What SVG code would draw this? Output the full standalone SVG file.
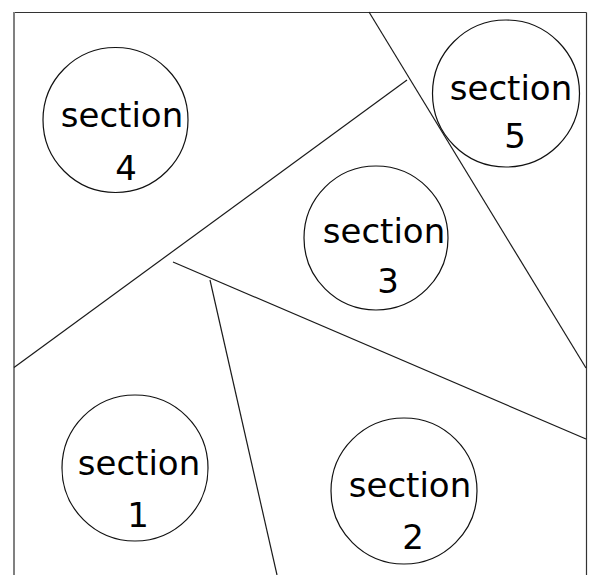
<svg xmlns="http://www.w3.org/2000/svg" width="593" height="575" viewBox="0 0 593 575">
<style>
.border{stroke:#333;stroke-width:1.2;fill:none}
.sep{stroke:#1a1a1a;stroke-width:1.2;fill:none}
.node circle{fill:none;stroke:#111;stroke-width:1.2}
.node text{font-family:"DejaVu Sans",sans-serif;font-size:34px;fill:#000;text-anchor:middle}
</style>
<rect width="593" height="575" fill="#fff"/>
<g id="frame">
<line class="border" x1="13.5" y1="12.5" x2="586.5" y2="12.5"/>
<line class="border" x1="586.5" y1="12.5" x2="586.5" y2="575"/>
<line x1="14" y1="12" x2="14" y2="575" stroke="#808080" stroke-width="2"/>
</g>
<g id="connectors">
<line class="sep" x1="14" y1="367.5" x2="407" y2="80"/>
<line class="sep" x1="369" y1="12" x2="586" y2="368"/>
<line class="sep" x1="173" y1="262" x2="586" y2="439"/>
<line class="sep" x1="210" y1="280" x2="277" y2="575"/>
</g>
<g id="section4" class="node">
<circle cx="115.5" cy="120" r="72.5"/>
<text x="122" y="127">section</text>
<text x="126" y="180">4</text>
</g>
<g id="section5" class="node">
<circle cx="506" cy="93.5" r="73.5"/>
<text x="511" y="100">section</text>
<text x="515" y="148">5</text>
</g>
<g id="section3" class="node">
<circle cx="376" cy="238" r="72"/>
<text x="384" y="243">section</text>
<text x="388" y="293">3</text>
</g>
<g id="section1" class="node">
<circle cx="135" cy="468" r="73"/>
<text x="139" y="475">section</text>
<text x="138" y="527">1</text>
</g>
<g id="section2" class="node">
<circle cx="404" cy="491" r="73"/>
<text x="410" y="497">section</text>
<text x="413" y="549">2</text>
</g>
</svg>
